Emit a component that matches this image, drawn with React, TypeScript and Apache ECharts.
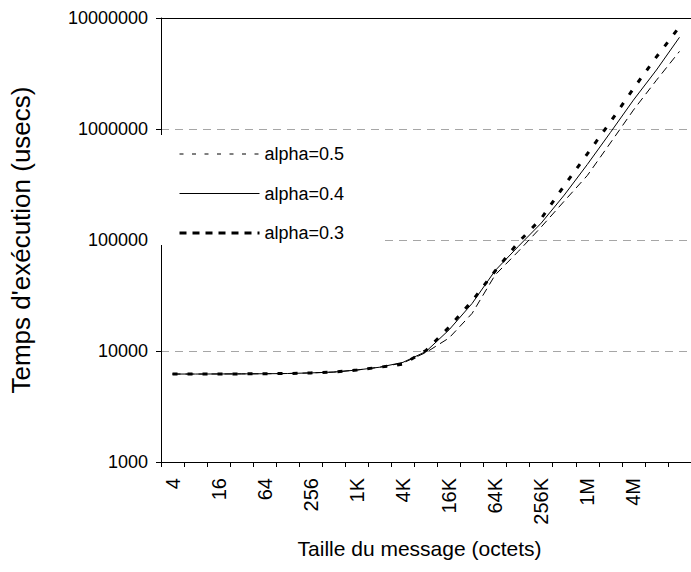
import React, { useEffect, useRef } from "react";
import * as echarts from "echarts";

const categories = ["4", "8", "16", "32", "64", "128", "256", "512", "1K", "2K", "4K", "8K", "16K", "32K", "64K", "128K", "256K", "512K", "1M", "2M", "4M", "8M", "16M"];

const alpha05 = [6200, 6200, 6210, 6220, 6240, 6270, 6350, 6460, 6740, 7150, 7800, 9700, 13100, 21800, 48400, 78700, 131000, 224000, 381000, 748000, 1480000, 2750000, 5000000];
const alpha04 = [6200, 6200, 6210, 6220, 6240, 6270, 6350, 6460, 6740, 7150, 7900, 9900, 15500, 26800, 53000, 87300, 142000, 254000, 479000, 929000, 1820000, 3400000, 6700000];
const alpha03 = [6200, 6200, 6210, 6220, 6240, 6270, 6350, 6460, 6740, 7150, 7600, 10100, 16400, 28200, 52600, 94900, 156000, 309000, 596000, 1156000, 2310000, 4460000, 8330000];

const seriesNames = ["alpha=0.5", "alpha=0.4", "alpha=0.3"];
const yTicks = [1000, 10000, 100000, 1000000, 10000000];

const FONT = "Liberation Sans, Arial, sans-serif";

export default function App() {
  const ref = useRef<HTMLDivElement>(null);
  useEffect(() => {
    if (!ref.current) return;
    const chart = echarts.init(ref.current, undefined, { renderer: "svg" });
    const catW = 23.7;
    const left = 159;
    const gridW = catW * categories.length;
    const hidden = { color: "rgba(0,0,0,0)", opacity: 0, borderWidth: 0 };
    chart.setOption({
      animation: false,
      backgroundColor: "#fff",
      grid: { left: left, top: 18, width: gridW, height: 444, containLabel: false },
      legend: {
        orient: "vertical",
        left: 150,
        top: 135,
        itemWidth: 80,
        itemHeight: 20,
        itemGap: 21.5,
        padding: [10, 36, 3, 28],
        backgroundColor: "#fff",
        textStyle: { fontSize: 18, fontFamily: FONT, color: "#000" },
        data: [
          { name: seriesNames[0], itemStyle: hidden, lineStyle: { color: "#000", width: 1, type: [4, 8.5] } },
          { name: seriesNames[1], itemStyle: hidden, lineStyle: { color: "#000", width: 1, type: "solid" } },
          { name: seriesNames[2], itemStyle: hidden, lineStyle: { color: "#000", width: 3, type: [7, 6] } },
        ],
      },
      xAxis: {
        type: "category",
        data: categories,
        boundaryGap: true,
        name: "Taille du message (octets)",
        nameLocation: "middle",
        nameGap: 76,
        nameTextStyle: { fontSize: 21, fontFamily: FONT, color: "#000", padding: [0, 13, 0, 0] },
        axisLine: { lineStyle: { color: "#000", width: 1 } },
        axisTick: { show: true, interval: 0, length: 5, lineStyle: { color: "#000" } },
        axisLabel: {
          interval: (i: number) => i % 2 === 0 && i <= 20,
          rotate: 90,
          fontSize: 20,
          fontFamily: FONT,
          color: "#000",
          margin: 16,
        },
        splitLine: { show: false },
      },
      yAxis: {
        type: "log",
        logBase: 10,
        min: yTicks[0],
        max: yTicks[yTicks.length - 1],
        name: "Temps d'exécution (usecs)",
        nameLocation: "middle",
        nameGap: 127,
        nameTextStyle: { fontSize: 26, fontFamily: FONT, color: "#000" },
        axisLine: { show: true, lineStyle: { color: "#000", width: 1 } },
        axisTick: { show: true, length: 5, lineStyle: { color: "#000" } },
        axisLabel: {
          fontSize: 18,
          fontFamily: FONT,
          color: "#000",
          margin: 13,
          formatter: (v: number) => String(Math.round(v)),
        },
        splitLine: { show: true, lineStyle: { color: "#a6a6a6", width: 1, type: [8, 6] } },
      },
      graphic: [
        {
          type: "line",
          shape: { x1: left - 0.5, y1: 18.5, x2: 691, y2: 18.5 },
          style: { stroke: "#000", lineWidth: 1 },
          z: 10,
        },
      ],
      series: [
        {
          name: seriesNames[0],
          type: "line",
          data: alpha05,
          symbol: "none",
          lineStyle: { color: "#000", width: 1, type: [8, 5], cap: "butt" },
          itemStyle: { color: "#000" },
          z: 2,
        },
        {
          name: seriesNames[1],
          type: "line",
          data: alpha04,
          symbol: "none",
          lineStyle: { color: "#000", width: 1, type: "solid" },
          itemStyle: { color: "#000" },
          z: 3,
        },
        {
          name: seriesNames[2],
          type: "line",
          data: alpha03,
          symbol: "none",
          lineStyle: { color: "#000", width: 3, type: [5, 10], cap: "butt" },
          itemStyle: { color: "#000" },
          z: 4,
        },
      ],
    });
    return () => chart.dispose();
  }, []);
  return (
    <div
      ref={ref}
      style={{ position: "fixed", left: 0, top: 0, width: 691, height: 572, background: "#fff" }}
    />
  );
}
